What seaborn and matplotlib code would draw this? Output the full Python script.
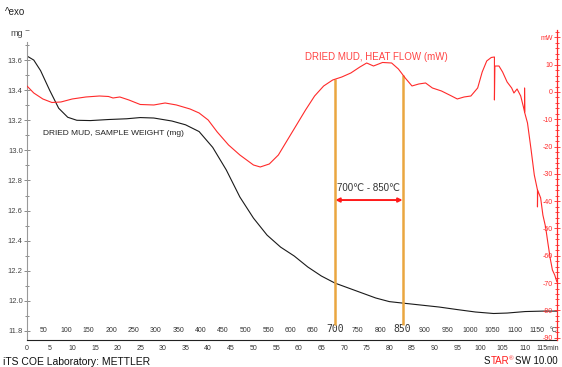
import numpy as np
import pandas as pd
import seaborn as sns
import matplotlib.pyplot as plt
from matplotlib.ticker import MultipleLocator

sns.set_style("white")
plt.rcParams['font.family'] = ['Liberation Sans', 'DejaVu Sans']

## Values (x = time in min)
weight_time = [0, 1.5, 3, 5, 7, 9, 11, 14, 18, 22, 25, 28, 32, 35, 38, 41, 44, 47, 50, 53,
               56, 59, 62, 65, 68, 71, 74, 77, 80, 83, 87, 91, 95, 99, 103, 106, 110, 114, 117]
weight_mg = [13.627, 13.60, 13.53, 13.40, 13.28, 13.22, 13.20, 13.198, 13.205, 13.21, 13.218,
             13.215, 13.195, 13.17, 13.125, 13.02, 12.87, 12.69, 12.55, 12.437, 12.357,
             12.298, 12.225, 12.165, 12.118, 12.085, 12.052, 12.019, 11.995, 11.985, 11.972,
             11.959, 11.942, 11.926, 11.916, 11.919, 11.929, 11.932, 11.932]

heat_time = [0, 1.5, 3.5, 5.5, 7.5, 10, 13, 16, 18, 19, 20.5, 22.5, 25, 28, 30.5, 33, 36, 38,
             40, 42, 44.5, 47, 50, 51.5, 53.5, 55.5, 57.5, 59.5, 61.5, 63.5, 65.5, 67.5, 69.5,
             71.5, 73.5, 75, 76.5, 78.5, 80.5, 82, 83.5, 85, 86.5, 88, 89.5, 91.5, 93.5, 95,
             96.5, 98, 99.5, 100.5, 101.5, 102.5, 103.2, 103.2, 103.3, 104.2, 105, 106, 107,
             107.5, 108.2, 109, 109.6, 109.85, 109.85, 109.9, 110.5, 111.3, 112, 112.7, 112.7,
             112.75, 113.4, 113.9, 114.5, 115, 115.5, 116, 116.5, 117]
heat_mW = [2.2, -0.37, -2.56, -3.85, -3.66, -2.56, -1.83, -1.47, -1.65, -2.2, -1.83, -2.93,
           -4.58, -4.76, -4.03, -4.76, -6.23, -7.69, -10.26, -14.65, -19.41, -23.08, -26.74,
           -27.47, -26.37, -23.08, -17.58, -12.09, -6.59, -1.47, 2.2, 4.4, 5.49, 6.96, 9.16,
           10.62, 9.52, 10.81, 10.62, 8.42, 5.13, 2.2, 2.93, 3.3, 1.47, 0.37, -1.28, -2.56,
           -1.83, -1.47, 1.47, 7.33, 11.36, 12.64, 12.82, -2.93, 9.5, 9.52, 7.33, 3.66, 1.47,
           -0.37, 1.1, -1.47, -5.49, -7.3, 1.47, -7.69, -11.36, -21.25, -30.4, -35.9, -42.1,
           -36.0, -38.8, -45.1, -49.5, -55.3, -60.8, -65.2, -67.0, -69.6]

time_ticks = list(range(0, 120, 5))
time_labels = [str(v) for v in time_ticks[:-1]] + ["115min"]
temp_ticks = list(range(50, 1200, 50))
mg_ticks = [11.8, 12.0, 12.2, 12.4, 12.6, 12.8, 13.0, 13.2, 13.4, 13.6]
mW_ticks = [-90, -80, -70, -60, -50, -40, -30, -20, -10, 0, 10, 20]
mW_labels = ["-90", "-80", "-70", "-60", "-50", "-40", "-30", "-20", "-10", "0", "10", "mW"]

T_START, HEAT_RATE = 12.5, 10.1   # temperature programme, degC and degC/min
range_lo, range_hi = 700, 850


def temp_to_time(T):
    return (np.asarray(T, dtype=float) - T_START) / HEAT_RATE


weight_df = pd.DataFrame({"time": weight_time, "mg": weight_mg})
heat_df = pd.DataFrame({"time": heat_time, "mW": heat_mW})

fig = plt.figure(figsize=(5.62, 3.67), dpi=100)
ax = fig.add_axes([0.048, 0.0736, 0.943, 0.8447])
ax2 = ax.twinx()

sns.lineplot(data=weight_df, x="time", y="mg", ax=ax, color="#1a1a1a", lw=0.8,
             estimator=None, sort=False)
sns.lineplot(data=heat_df, x="time", y="mW", ax=ax2, color="#ff2a2a", lw=0.8,
             estimator=None, sort=False)

ax.set_xlim(0, 117)
ax.set_ylim(11.74, 13.80)
ax2.set_ylim(-90.84, 22.71)
for a in (ax, ax2):
    a.set(xlabel=None, ylabel=None)
    a.grid(False)

# spines
ax.spines.top.set_visible(False)
ax.spines.right.set_visible(False)
ax.spines.left.set_color("#999999")
ax.spines.left.set_linewidth(0.8)
ax.spines.left.set_bounds(11.74, 13.72)
ax.spines.bottom.set_color("#222222")
ax.spines.bottom.set_linewidth(0.8)
for s in ("top", "left", "bottom"):
    ax2.spines[s].set_visible(False)
ax2.spines.right.set_color("#ff2a2a")
ax2.spines.right.set_linewidth(0.9)

# left (mg) axis
ax.set_yticks(mg_ticks, [f"{v:.1f}" for v in mg_ticks])
ax.yaxis.set_minor_locator(MultipleLocator(0.1))
ax.tick_params(axis="y", which="both", direction="inout", color="#777777", width=0.6,
               labelsize=5.5, labelcolor="#444444", pad=1)
ax.tick_params(axis="y", which="major", length=4)
ax.tick_params(axis="y", which="minor", length=3)

# time axis
ax.set_xticks(time_ticks, time_labels)
ax.xaxis.set_minor_locator(MultipleLocator(1))
ax.tick_params(axis="x", which="both", direction="inout", color="#222222", width=0.6,
               labelsize=5, labelcolor="#333333", pad=1)
ax.tick_params(axis="x", which="major", length=5)
ax.tick_params(axis="x", which="minor", length=3)

# right (mW) axis, labels inside the spine
ax2.set_yticks(mW_ticks, mW_labels)
ax2.yaxis.set_minor_locator(MultipleLocator(2))
ax2.tick_params(axis="y", which="both", direction="inout", color="#ff2a2a", width=0.6,
                labelsize=5, labelcolor="#ff2a2a", pad=-5)
ax2.tick_params(axis="y", which="major", length=4)
ax2.tick_params(axis="y", which="minor", length=2.5)
for lab in ax2.get_yticklabels():
    lab.set_horizontalalignment("right")

# temperature labels above the time axis
xt = ax.get_xaxis_transform()
for T, t in zip(temp_ticks, temp_to_time(temp_ticks)):
    if T in (range_lo, range_hi):
        ax.text(t, 0.034, str(T), transform=xt, ha="center", va="center", fontsize=7,
                color="#333333", family="DejaVu Sans Mono")
    else:
        ax.text(t, 0.032, str(T), transform=xt, ha="center", va="center", fontsize=5,
                color="#333333")
ax.text(116.3, 0.032, "°C", transform=xt, ha="center", va="center", fontsize=5, color="#333333")

# 700-850 degC range markers
t_lo, t_hi = temp_to_time([range_lo, range_hi])
for t in (t_lo, t_hi):
    top = np.interp(t, heat_time[:50], heat_mW[:50])
    ax2.vlines(t, -85.4, top, color="#eaa640", lw=1.8, zorder=1)
ax.annotate("", xy=(t_hi, 12.67), xytext=(t_lo, 12.67),
            arrowprops=dict(arrowstyle="<|-|>", color="#ff1a1a", lw=1.4,
                            mutation_scale=6, shrinkA=0, shrinkB=0))
ax.text((t_lo + t_hi) / 2, 12.75, f"{range_lo}℃ - {range_hi}℃", ha="center", va="center",
        fontsize=7, color="#333333")

# curve labels
ax.text(3.5, 13.115, "DRIED MUD, SAMPLE WEIGHT (mg)", ha="left", va="center", fontsize=6,
        color="#222222")
ax.text(61.4, 13.62, "DRIED MUD, HEAT FLOW (mW)", ha="left", va="center", fontsize=7,
        color="#ff4545")

# header / footer
fig.text(5 / 562, 1 - 12 / 367, "^exo", ha="left", va="center", fontsize=7, color="#222222")
fig.text(17 / 562, 1 - 33 / 367, "mg", ha="center", va="center", fontsize=6.5, color="#444444")
fig.text(3 / 562, 1 - 362 / 367, "iTS COE Laboratory: METTLER", ha="left", va="center",
         fontsize=7.5, color="#111111")
s = fig.text(484 / 562, 1 - 366 / 367, "S", ha="left", va="bottom", fontsize=7, color="#111111")
tar = plt.annotate("TAR", xy=(1, 0), xycoords=s, ha="left", va="bottom", fontsize=7,
                   color="#ff1a1a", annotation_clip=False)
plt.annotate("®", xy=(1, 1), xycoords=tar, ha="left", va="top", fontsize=4.5,
             color="#ff1a1a", annotation_clip=False)
plt.annotate("SW 10.00", xy=(1, 0), xycoords=tar, xytext=(4, 0), textcoords="offset points",
             ha="left", va="bottom", fontsize=7, color="#111111", annotation_clip=False)

plt.savefig("out.png", dpi=100)
